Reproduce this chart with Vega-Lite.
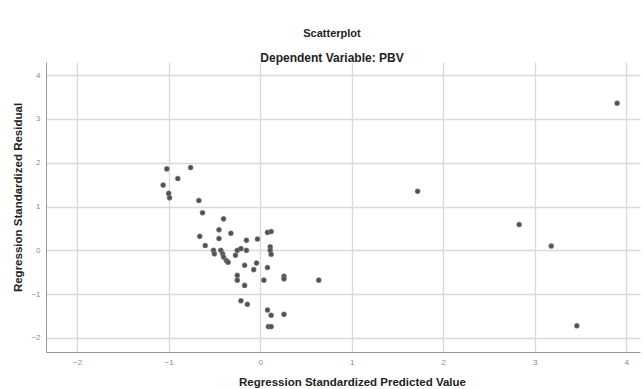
{
  "$schema": "https://vega.github.io/schema/vega-lite/v6.json",
  "width": 594,
  "height": 290,
  "autosize": {"type": "none"},
  "padding": {"left": 46, "top": 62, "right": 3, "bottom": 37},
  "background": "white",
  "title": {
    "text": "Scatterplot",
    "subtitle": "Dependent Variable: PBV",
    "anchor": "middle",
    "dx": -11,
    "offset": -2,
    "font": "Liberation Sans",
    "fontSize": 11,
    "fontWeight": "bold",
    "color": "#222222",
    "subtitleFont": "Liberation Sans",
    "subtitleFontSize": 12,
    "subtitleFontWeight": "bold",
    "subtitleColor": "#222222",
    "subtitlePadding": 14
  },
  "data": {
    "values": [
      {"pred": -1.02, "resid": 1.86}, {"pred": -0.76, "resid": 1.89}, {"pred": -0.90, "resid": 1.64},
      {"pred": -1.06, "resid": 1.49}, {"pred": -1.00, "resid": 1.30}, {"pred": -0.99, "resid": 1.20},
      {"pred": -0.67, "resid": 1.14}, {"pred": -0.63, "resid": 0.86}, {"pred": -0.40, "resid": 0.72},
      {"pred": -0.45, "resid": 0.47}, {"pred": -0.32, "resid": 0.39}, {"pred": -0.66, "resid": 0.32},
      {"pred": -0.45, "resid": 0.27}, {"pred": 0.08, "resid": 0.41}, {"pred": 0.12, "resid": 0.43},
      {"pred": -0.15, "resid": 0.23}, {"pred": -0.03, "resid": 0.26}, {"pred": -0.60, "resid": 0.11},
      {"pred": -0.51, "resid": 0.00}, {"pred": -0.50, "resid": -0.08}, {"pred": -0.43, "resid": 0.00},
      {"pred": -0.41, "resid": -0.08}, {"pred": -0.40, "resid": -0.15}, {"pred": -0.37, "resid": -0.23},
      {"pred": -0.35, "resid": -0.27}, {"pred": -0.25, "resid": 0.00}, {"pred": -0.21, "resid": 0.04},
      {"pred": -0.27, "resid": -0.11}, {"pred": -0.15, "resid": 0.00}, {"pred": 0.11, "resid": 0.08},
      {"pred": 0.11, "resid": 0.00}, {"pred": 0.12, "resid": -0.09}, {"pred": -0.17, "resid": -0.34},
      {"pred": -0.07, "resid": -0.44}, {"pred": -0.04, "resid": -0.29}, {"pred": 0.08, "resid": -0.39},
      {"pred": -0.25, "resid": -0.57}, {"pred": -0.25, "resid": -0.68}, {"pred": 0.26, "resid": -0.59},
      {"pred": 0.26, "resid": -0.65}, {"pred": 0.04, "resid": -0.68}, {"pred": 0.64, "resid": -0.68},
      {"pred": -0.17, "resid": -0.80}, {"pred": -0.21, "resid": -1.15}, {"pred": -0.14, "resid": -1.23},
      {"pred": 0.08, "resid": -1.36}, {"pred": 0.12, "resid": -1.48}, {"pred": 0.26, "resid": -1.46},
      {"pred": 0.09, "resid": -1.74}, {"pred": 0.12, "resid": -1.74},
      {"pred": 3.90, "resid": 3.36}, {"pred": 1.72, "resid": 1.35}, {"pred": 2.83, "resid": 0.59},
      {"pred": 3.18, "resid": 0.10}, {"pred": 3.46, "resid": -1.72}
    ]
  },
  "mark": {"type": "circle", "size": 26, "color": "#525252", "opacity": 1, "stroke": "#909090", "strokeWidth": 0.5},
  "encoding": {
    "x": {
      "field": "pred",
      "type": "quantitative",
      "title": "Regression Standardized Predicted Value",
      "scale": {"domain": [-2.34, 4.15], "nice": false, "zero": false},
      "axis": {
        "values": [-2, -1, 0, 1, 2, 3, 4],
        "titleX": 306,
        "titleY": 30,
        "titleBaseline": "middle"
      }
    },
    "y": {
      "field": "resid",
      "type": "quantitative",
      "title": "Regression Standardized Residual",
      "scale": {"domain": [-2.32, 4.3], "nice": false, "zero": false},
      "axis": {
        "values": [-2, -1, 0, 1, 2, 3, 4],
        "titleX": -28,
        "titleY": 135,
        "titleBaseline": "middle"
      }
    }
  },
  "config": {
    "view": {"stroke": null},
    "axis": {
      "grid": true,
      "gridColor": "#d9d9d9",
      "gridWidth": 1.3,
      "domain": true,
      "domainColor": "#999999",
      "domainWidth": 1,
      "ticks": false,
      "labelFont": "Liberation Sans",
      "labelFontSize": 8,
      "labelColor": "#8c8c8c",
      "labelPadding": 6,
      "titleFont": "Liberation Sans",
      "titleFontSize": 11.5,
      "titleFontWeight": "bold",
      "titleColor": "#222222"
    }
  }
}
